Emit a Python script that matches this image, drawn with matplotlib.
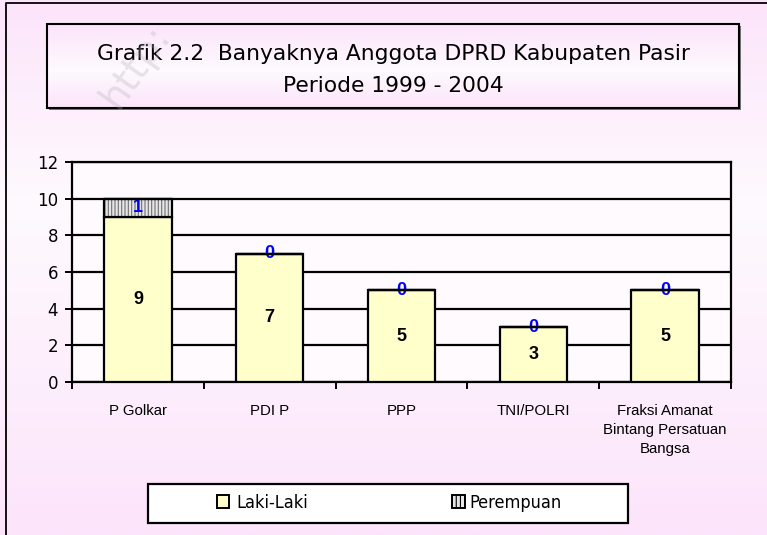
import numpy as np
import matplotlib
matplotlib.use("Agg")
import matplotlib.pyplot as plt
from matplotlib.patches import Rectangle

categories = ["P Golkar", "PDI P", "PPP", "TNI/POLRI", "Fraksi Amanat\nBintang Persatuan\nBangsa"]
laki = [9, 7, 5, 3, 5]
perempuan = [1, 0, 0, 0, 0]
yticks = [0, 2, 4, 6, 8, 10, 12]
title_lines = "Grafik 2.2  Banyaknya Anggota DPRD Kabupaten Pasir\nPeriode 1999 - 2004"
legend_labels = ["Laki-Laki", "Perempuan"]

W, H = 767, 535
fig = plt.figure(figsize=(W / 100, H / 100), dpi=100)

PINK = np.array([252, 228, 251]) / 255
WHITE = np.array([254, 250, 254]) / 255


def fx(px):
    return px / W


def fy(py):
    return 1 - py / H


def pink_white_pink(n, mid):
    t = np.linspace(0, 1, n)
    k = np.where(t < mid, 1 - t / mid, (t - mid) / (1 - mid))
    return (WHITE + (PINK - WHITE) * k[:, None])[:, None, :]


# background gradient
bg = fig.add_axes([0, 0, 1, 1], zorder=-10)
bg.imshow(pink_white_pink(256, 0.38), aspect="auto", extent=[0, 1, 0, 1], origin="upper")
bg.set_xlim(0, 1)
bg.set_ylim(0, 1)
bg.axis("off")
bg.plot([fx(6), fx(6), 1.01], [-0.01, fy(3), fy(3)], color="black", lw=1.3, clip_on=False)

# title box
bx0, bx1, by0, by1 = 47, 739, 24, 108
bg.add_patch(Rectangle((fx(bx0 + 2), fy(by1 + 2)), fx(bx1 - bx0), (by1 - by0) / H,
                       facecolor="#777777", edgecolor="none"))
bg.imshow(pink_white_pink(128, 0.55), aspect="auto", origin="upper",
          extent=[fx(bx0), fx(bx1), fy(by1), fy(by0)], zorder=2)
bg.add_patch(Rectangle((fx(bx0), fy(by1)), fx(bx1 - bx0), (by1 - by0) / H,
                       facecolor="none", edgecolor="black", lw=1.5, zorder=3))
fig.text(fx(393), fy(70), title_lines, ha="center", va="center", fontsize=15.7,
         linespacing=1.75, family="DejaVu Sans", color="black")

# watermark
fig.text(fx(135), fy(66), "http:", rotation=55, ha="center", va="center",
         fontsize=28, color="#B0B0B0", alpha=0.3, zorder=20)

# main chart
ax = fig.add_axes([fx(72), fy(382), fx(731 - 72), (382 - 162) / H])
ax.set_facecolor("#FEFAFE")
x = np.arange(len(categories))
w = 0.51
ax.bar(x, laki, w, color="#FFFFCC", edgecolor="black", lw=1.6, zorder=3)
plt.rcParams["hatch.linewidth"] = 0.8
ax.bar(x, perempuan, w, bottom=laki, color="#E6E6E6", edgecolor="#707070",
       hatch="|||||", lw=0, zorder=3)
ax.bar(x, perempuan, w, bottom=laki, fill=False, edgecolor="black", lw=1.6, zorder=4)

for i in range(len(categories)):
    ax.text(x[i], laki[i] / 2, str(laki[i]), ha="center", va="center",
            fontsize=13, fontweight="bold", family="Liberation Sans", zorder=5)
    ax.text(x[i], laki[i] + perempuan[i] / 2, str(perempuan[i]), ha="center",
            va="center", fontsize=13, fontweight="bold", color="#0000FF",
            family="Liberation Sans", zorder=3.5)
# bar tops run over the value labels
ax.hlines(np.add(laki, perempuan), x - w / 2, x + w / 2, color="black", lw=1.6, zorder=3.6)

ax.set_xlim(-0.5, len(categories) - 0.5)
ax.set_ylim(0, 12)
ax.set_yticks(yticks)
ax.set_yticklabels([str(v) for v in yticks], fontsize=12, family="DejaVu Sans")
ax.yaxis.grid(True, color="black", lw=1.6, zorder=1)
ax.set_axisbelow(True)
ax.set_xticks(x)
ax.set_xticklabels(categories, fontsize=10.8, family="Liberation Sans", linespacing=1.45)
ax.set_xticks(np.arange(-0.5, len(categories), 1), minor=True)
ax.tick_params(axis="x", which="major", length=0, pad=16)
ax.tick_params(axis="x", which="minor", length=5, width=1.4, direction="out")
ax.tick_params(axis="y", length=5, width=1.4, direction="out", pad=5)
for s in ax.spines.values():
    s.set_linewidth(1.6)
    s.set_color("black")

# legend
bg.add_patch(Rectangle((fx(148), fy(523)), fx(628 - 148), (523 - 484) / H, facecolor="white",
                       edgecolor="black", lw=1.6, zorder=3))
bg.add_patch(Rectangle((fx(217), fy(508)), fx(12), 13 / H, facecolor="#FFFFCC",
                       edgecolor="black", lw=1.4, zorder=4))
bg.add_patch(Rectangle((fx(452), fy(508)), fx(13), 13 / H, facecolor="#E6E6E6",
                       edgecolor="black", hatch="||||", lw=1.4, zorder=4))
fig.text(fx(236), fy(503), legend_labels[0], ha="left", va="center", fontsize=13,
         fontstretch="condensed")
fig.text(fx(469), fy(503), legend_labels[1], ha="left", va="center", fontsize=13,
         fontstretch="condensed")

fig.savefig("out.png", dpi=100)
